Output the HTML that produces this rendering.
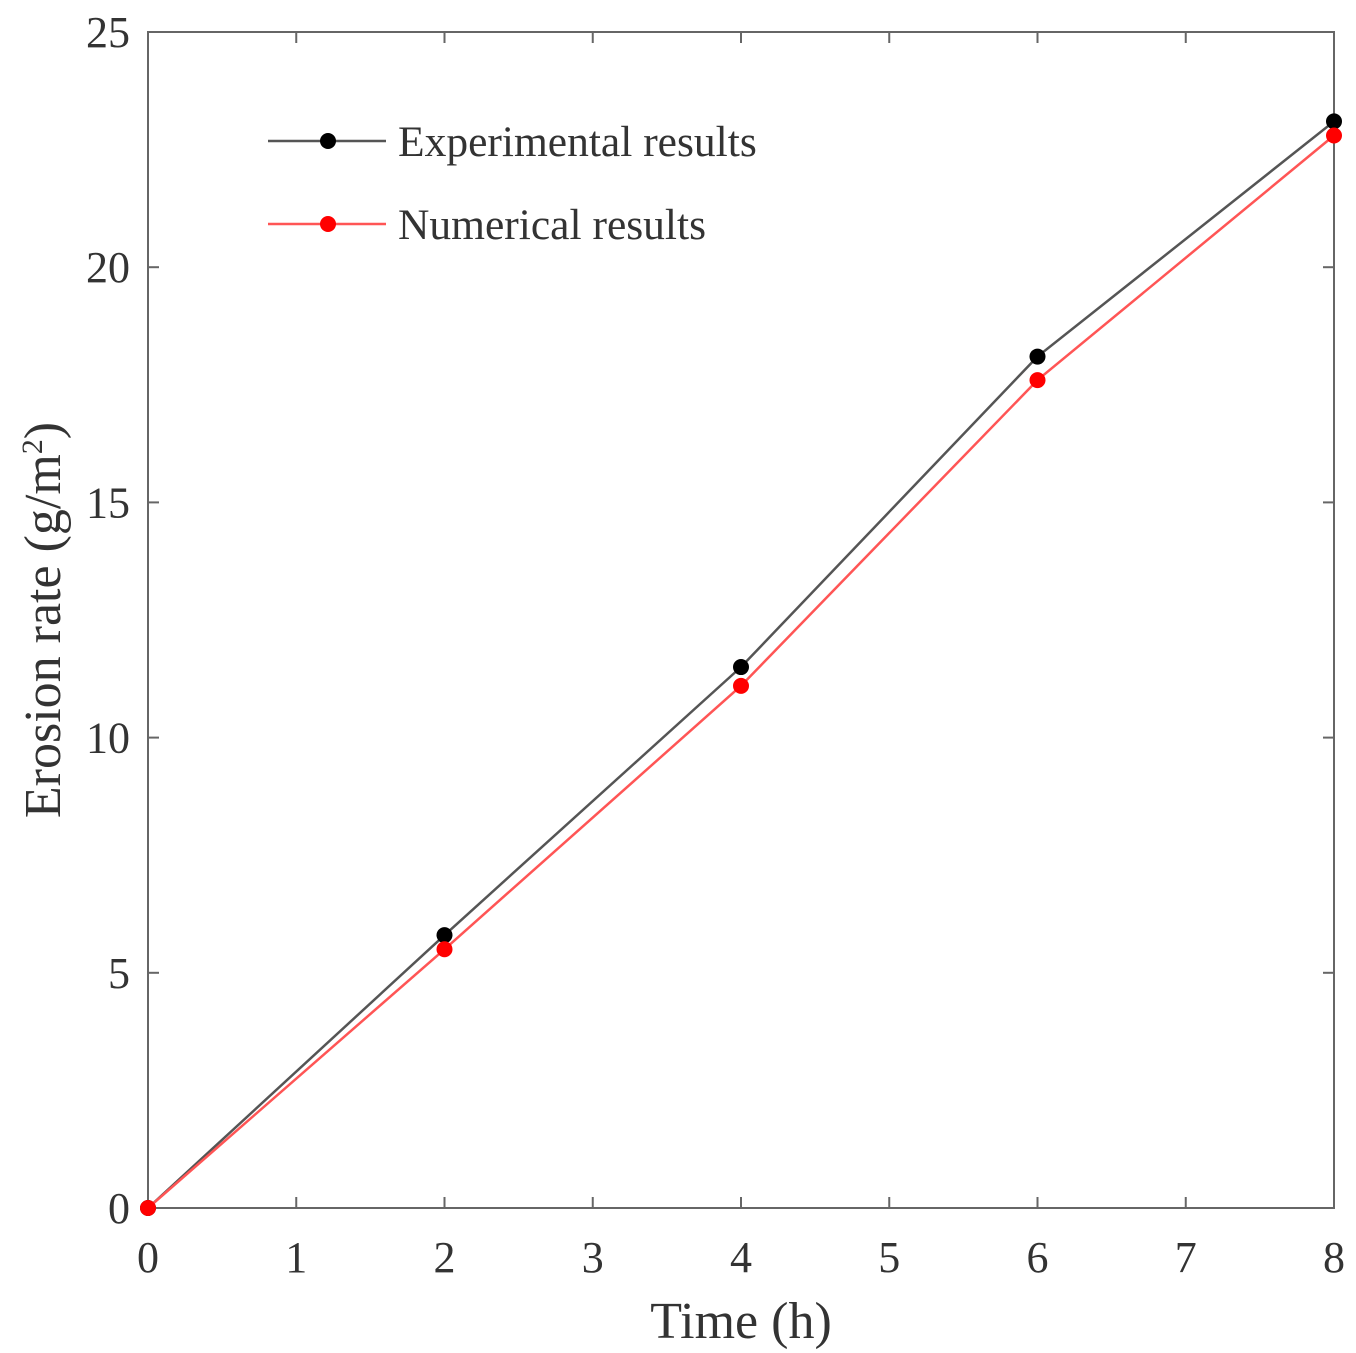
<!DOCTYPE html>
<html><head><meta charset="utf-8"><style>
html,body{margin:0;padding:0;background:#fff;}
svg{display:block;font-family:"Liberation Serif",serif;}
</style></head><body>
<svg id="chart" width="1356" height="1353"></svg>
<script>
const xTicks=[0,1,2,3,4,5,6,7,8];
const yTicks=[0,5,10,15,20,25];
const times=[0,2,4,6,8];
const experimental=[0,5.8,11.5,18.1,23.1];
const numerical=[0,5.5,11.1,17.6,22.8];
const X0=148,X1=1334,Y0=1208,Y1=32;
const sx=v=>X0+(X1-X0)*v/8;
const sy=v=>Y0-(Y0-Y1)*v/25;
const NS="http://www.w3.org/2000/svg";
const svg=document.getElementById('chart');
function mk(t,a,p){const e=document.createElementNS(NS,t);for(const k in a)e.setAttribute(k,a[k]);(p||svg).appendChild(e);return e;}
const frame=mk('rect',{x:X0,y:Y1,width:X1-X0,height:Y0-Y1,fill:'none',stroke:'#666','stroke-width':2});


xTicks.forEach(v=>{
  const x=sx(v);
  mk('line',{x1:x,y1:Y0,x2:x,y2:Y0-11,stroke:'#666','stroke-width':2});
  mk('line',{x1:x,y1:Y1,x2:x,y2:Y1+11,stroke:'#666','stroke-width':2});
  const t=mk('text',{x:x,y:1272,'text-anchor':'middle','font-size':44,fill:'#333'});
  t.textContent=v;
  
  
});
yTicks.forEach(v=>{
  const y=sy(v);
  mk('line',{x1:X0,y1:y,x2:X0+11,y2:y,stroke:'#666','stroke-width':2});
  mk('line',{x1:X1,y1:y,x2:X1-11,y2:y,stroke:'#666','stroke-width':2});
  const t=mk('text',{x:130,y:y+15,'text-anchor':'end','font-size':44,fill:'#333'});
  t.textContent=v;
  
  
});
const xt=mk('text',{x:741,y:1338,'text-anchor':'middle','font-size':52,fill:'#333'});
xt.textContent='Time (h)';


const yt=mk('text',{transform:'translate(60,620) rotate(-90)','text-anchor':'middle','font-size':52,fill:'#333'});
yt.innerHTML='Erosion rate (g/m<tspan dy="-18" font-size="30">2</tspan><tspan dy="18">)</tspan>';


function series(vals,color,line,name){
  const g=mk('g',{});
  
  
  mk('polyline',{points:vals.map((v,i)=>sx(times[i])+','+sy(v)).join(' '),fill:'none',stroke:line,'stroke-width':2.5},g);
  vals.forEach((v,i)=>{
    const c=mk('circle',{cx:sx(times[i]),cy:sy(v),r:8,fill:color},g);
    
    
  });
}
series(experimental,'#000','#555','experimental-series');
series(numerical,'#f00','#f55','numerical-series');
function legend(y,color,line,label,name){
  const g=mk('g',{});
  
  
  mk('line',{x1:268,y1:y,x2:386,y2:y,stroke:line,'stroke-width':2.5},g);
  mk('circle',{cx:328,cy:y,r:8,fill:color},g);
  const t=mk('text',{x:398,y:y+15,'font-size':43.5,fill:'#333'},g);
  t.textContent=label;
}
legend(141,'#000','#555','Experimental results','legend-experimental');
legend(224,'#f00','#f55','Numerical results','legend-numerical');
</script>
</body></html>
